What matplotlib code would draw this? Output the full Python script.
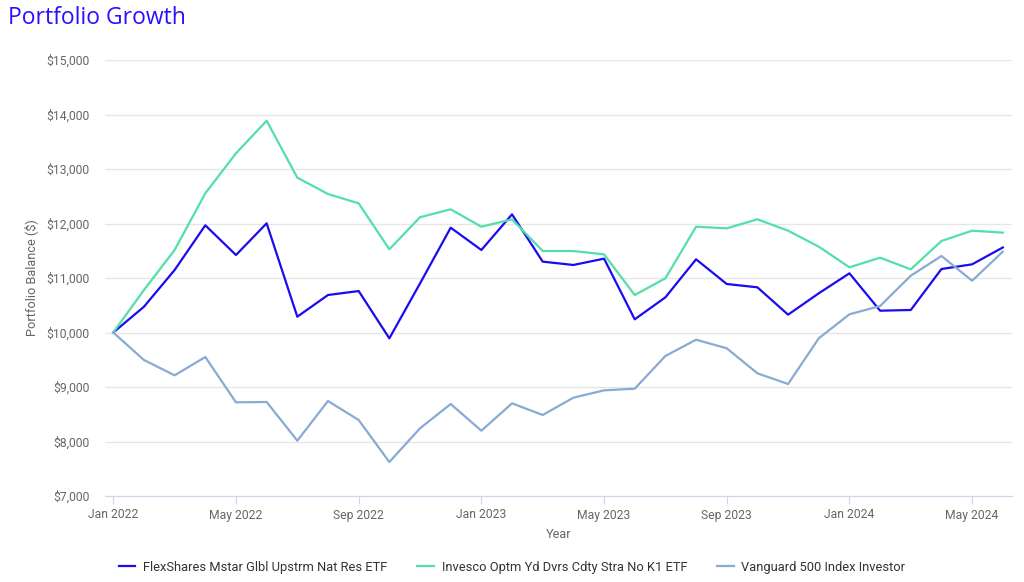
import numpy as np
import matplotlib.pyplot as plt

plt.rcParams['font.family'] = ['Roboto', 'DejaVu Sans']

months = ["Jan 2022", "Feb 2022", "Mar 2022", "Apr 2022", "May 2022", "Jun 2022",
          "Jul 2022", "Aug 2022", "Sep 2022", "Oct 2022", "Nov 2022", "Dec 2022",
          "Jan 2023", "Feb 2023", "Mar 2023", "Apr 2023", "May 2023", "Jun 2023",
          "Jul 2023", "Aug 2023", "Sep 2023", "Oct 2023", "Nov 2023", "Dec 2023",
          "Jan 2024", "Feb 2024", "Mar 2024", "Apr 2024", "May 2024", "Jun 2024"]

flexshares = [10000, 10473, 11147, 11967, 11422, 12003, 10290, 10688, 10761, 9893,
              10900, 11923, 11514, 12168, 11300, 11239, 11355, 10242, 10645, 11343,
              10890, 10829, 10327, 10719, 11086, 10400, 10413, 11165, 11251, 11560]
invesco = [10000, 10780, 11514, 12554, 13288, 13886, 12841, 12541, 12370, 11527,
           12115, 12260, 11941, 12077, 11495, 11495, 11434, 10688, 10994, 11941,
           11911, 12077, 11868, 11575, 11196, 11373, 11159, 11679, 11868, 11832]
vanguard = [10000, 9495, 9214, 9550, 8719, 8725, 8015, 8743, 8394, 7624,
            8242, 8688, 8198, 8700, 8486, 8804, 8939, 8969, 9569, 9868,
            9710, 9251, 9055, 9893, 10334, 10486, 11042, 11404, 10950, 11483]

names = ["FlexShares Mstar Glbl Upstrm Nat Res ETF",
         "Invesco Optm Yd Dvrs Cdty Stra No K1 ETF",
         "Vanguard 500 Index Investor"]
colors = ["#1a0bf0", "#52e0a8", "#87abd3"]

x = np.arange(len(months))

fig = plt.figure(figsize=(10.24, 5.82), dpi=100)
ax = fig.add_axes([105 / 1024, 1 - 496 / 582, 907 / 1024, 436 / 582])

for series, name, c in zip([flexshares, invesco, vanguard], names, colors):
    ax.plot(x, series, color=c, lw=1.6, label=name)

ax.set_ylim(7000, 15000)
ax.set_xlim(-0.27, 29.3)
ax.set_yticks(np.arange(7000, 15001, 1000))
ax.set_yticklabels(["${:,}".format(v) for v in range(7000, 15001, 1000)])
ax.set_xticks(x[::4])
ax.set_xticklabels(months[::4])

ax.grid(axis='y', color='#e6e6e6', lw=1)
ax.set_axisbelow(True)
for s in ['top', 'right', 'left']:
    ax.spines[s].set_visible(False)
ax.spines['bottom'].set_color('#ccd6eb')
ax.tick_params(axis='y', length=0, labelsize=8.7, labelcolor='#666666', pad=11)
ax.tick_params(axis='x', length=6, color='#ccd6eb', labelsize=8.7, labelcolor='#666666', pad=3)

ax.set_xlabel("Year", fontsize=9.2, color='#666666', labelpad=5)
ax.set_ylabel("Portfolio Balance ($)", fontsize=9.2, color='#666666', labelpad=6)

fig.text(8 / 1024, 1 - 18 / 582, "Portfolio Growth", fontsize=16.5, color='#2b10ff',
         va='center', ha='left', family=['Open Sans', 'DejaVu Sans'])

fig.legend(loc='center', bbox_to_anchor=(0.5, 1 - 567 / 582), ncol=3, frameon=False,
           fontsize=9.3, handlelength=1.3, columnspacing=2.3, labelcolor='#333333',
           handletextpad=0.6)

plt.savefig("out.png", dpi=100)
